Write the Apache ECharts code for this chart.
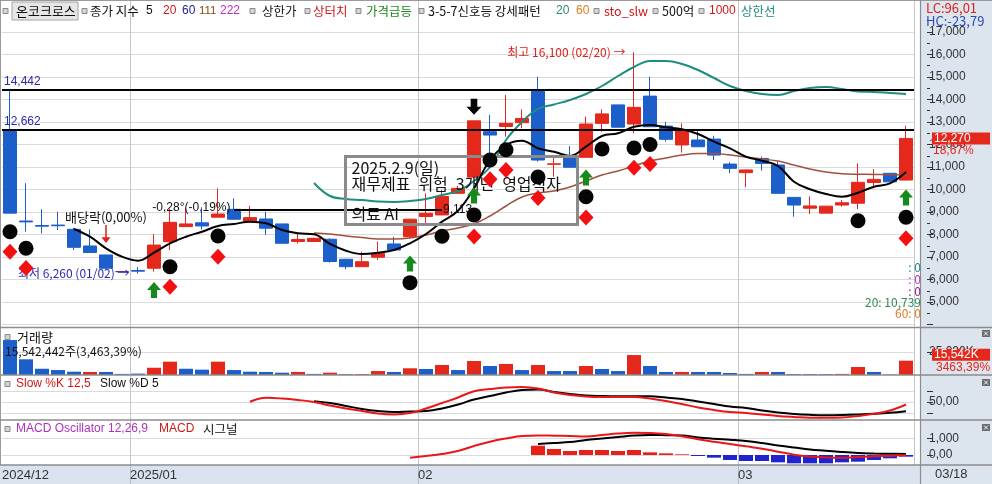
<!DOCTYPE html>
<html><head><meta charset="utf-8">
<script src="https://cdn.jsdelivr.net/npm/echarts@6/dist/echarts.min.js"></script>
<style>html,body{margin:0;padding:0;background:#fff}#c{width:992px;height:484px}</style>
</head><body><div id="c"></div>
<script>
// ---------------- data ----------------
const dates = ['12/18','12/19','12/20','12/23','12/24','12/26','12/27','12/30',
 '01/02','01/03','01/06','01/07','01/08','01/09','01/10','01/13','01/14','01/15','01/16','01/17','01/20','01/21','01/22','01/23','01/24','01/31',
 '02/03','02/04','02/05','02/06','02/07','02/10','02/11','02/12','02/13','02/14','02/17','02/18','02/19','02/20','02/21','02/24','02/25','02/26','02/27','02/28',
 '03/04','03/05','03/06','03/07','03/10','03/11','03/12','03/13','03/14','03/17','03/18'];
const opens  = [12662,8600,8400,8420,8230,7490,7090,6350,6400,6500,7680,8350,8520,8770,9120,8570,8690,8470,7690,7690,7790,6900,6570,6990,7580,7900,8800,8870,9830,10550,12570,12800,12970,14420,11120,11430,11430,12940,13760,12910,14150,12820,11980,12200,12240,11130,10750,11380,11090,9650,9170,8950,9310,9390,10310,10720,10420];
const closes = [8950,8560,8370,8390,7430,7200,6500,6350,6370,7530,8540,8470,8380,8910,8680,8750,8280,7610,7780,7830,6800,6570,6790,7160,7310,8680,8940,9690,10050,13050,12420,12940,13160,11310,11140,10990,12910,13360,12770,13650,12790,12230,12640,11900,11530,10940,10870,11160,9830,9310,9270,9260,9410,10320,10450,10340,12270];
const lows   = [8930,8130,8050,8200,7310,7190,6480,6340,6260,6350,7310,8340,8230,8760,8670,8560,7980,7600,7600,7670,6750,6450,6560,6870,7300,7850,8520,8860,9820,10540,11460,12350,12720,11240,10570,10980,11420,12570,12760,12500,12780,12130,11640,11890,11310,10720,10100,10840,9820,8790,8910,8940,9240,9120,10050,10330,10400];
const highs  = [14442,10280,9120,9010,8300,8230,7100,6360,6560,8020,9160,9160,9210,10050,9610,9270,9010,8480,8080,7850,7830,6920,7240,7680,7900,8700,9830,9980,10160,13060,13310,14200,13560,15010,11530,11930,13240,13560,13770,16100,15010,13010,12940,12610,12390,11210,10880,11460,11240,9660,9690,9270,9530,11160,10900,10730,12830];

const ma5Start = 4;
const ma5 = [8245,7903,7387,7014,6836,7192,7610,7903,8125,8379,8468,8570,8499,8201,8054,8010,7580,7280,7134,7192,7312,7610,8023,8570,9058,10050,11312,11978,12169,11832,11681,11489,11903,12378,12498,12791,12867,12765,12676,12467,12125,11832,11458,11280,11045,10347,10010,9801,9681,9858,10125,10276,10778];
const ma20Start = 19;
const ma20 = [8067,8022,7934,7867,7800,7800,7845,7978,8156,8290,8467,8822,9267,9667,9844,9933,10111,10378,10645,10822,11045,11267,11400,11533,11600,11600,11533,11444,11356,11267,11089,10911,10778,10700,10680,10670,10660,10650];
const tealStart = 19;
const teal = [10289,9711,9578,9534,9467,9445,9489,9578,9756,9934,10378,11000,12200,13000,13578,13778,13978,14245,14600,15044,15444,15711,15711,15578,15311,14956,14600,14378,14245,14200,14378,14511,14556,14467,14356,14333,14289,14245];

const volumes = [38000000,17100000,6800000,5400000,3600000,3300000,3300000,1200000,1500000,7900000,14500000,6800000,5800000,14500000,5400000,3600000,3300000,2500000,3300000,1200000,2500000,800000,1000000,4300000,3300000,7300000,6500000,10900000,5400000,15200000,9800000,12000000,5400000,10900000,4300000,4300000,9800000,6500000,4300000,21700000,9800000,3300000,3300000,3300000,3300000,2200000,1200000,3300000,3300000,1000000,1000000,900000,1200000,8700000,3300000,450000,15542442];
const volUp = [0,0,0,0,0,1,0,0,0,1,1,0,0,1,0,0,0,0,1,0,1,0,1,1,0,1,0,1,0,1,0,1,0,1,0,0,1,0,0,1,0,0,1,0,0,0,0,1,0,0,0,0,1,1,0,0,1];

const slowKStart = 15;
const slowK = [50.6,61.7,59.7,55.6,50,40.3,32,25,18,15.3,19.4,32,47.2,62.5,80,86,90.3,91.7,87.5,76.4,69.4,65.3,63.9,63.9,63.9,59.7,52.8,44.4,34.7,27.8,22.2,19.4,15.3,11.1,8.3,6.1,6.1,6.9,11.1,17.2,26.4,43.1];
const slowDStart = 19;
const slowD = [52.2,47.2,38.9,30.6,25,22.2,23.6,25,32,43,57,66.7,76.4,83.3,84.7,77.8,72.2,68,66.7,66.1,66.1,66.1,62.5,58.3,51.4,44.4,37.5,33.3,26.4,20.8,16.7,14.4,13.3,13.9,15.3,17.2,20,24.4];

const macdStart = 25;
const macd = [-162,-60,60,240,540,798,990,1140,1170,1158,1140,1110,1200,1290,1332,1320,1260,1130,940,790,660,520,380,200,20,-90,-150,-170,-120,-80,-40,0];
const signalStart = 33;
const signal = [660,720,780,900,990,1080,1170,1200,1188,1170,1050,972,912,840,720,570,450,330,258,180,120,90,72,60];
const oscStart = 33;
const osc = [558,360,240,300,300,240,300,160,100,40,-60,-160,-300,-360,-360,-440,-500,-500,-500,-440,-400,-300,-200,-100];

// signal markers [index, price]
const dotMarks = [[0,8125],[1,7387],[10,6570],[13,7934],[25,5859],[27,7920],[29,8867],[30,11312],[31,11769],[33,10556],[36,9681],[37,11800],[39,11845],[40,12000],[53,8614],[56,8765]];
const diamondMarks = [[0,7236],[1,6512],[10,5681],[13,7014],[29,7912],[30,10454],[31,10867],[33,9623],[36,8756],[39,10969],[40,11134],[56,7832]];
const upArrowMarks = [[9,5534],[25,6712],[29,9734],[36,10534],[56,9645]];
const downArrowMarks = [[29,13680]];
const dividendMarks = [[6,8023]];

const levelLines = [14442, 12662];
const trendLine = {from: 14, to: 27, price: 9113, label: '9,113', angle: '-0,28°(-0,19%)'};

const priceTicks = [5000,6000,7000,8000,9000,10000,11000,12000,13000,14000,15000,16000,17000];
const priceTickMarks = [4000,5000,6000,7000,8000,9000,10000,11000,12000,13000,14000,15000,16000,17000];
const priceMinorTicks = [4500,5500,6500,7500,8500,9500,10500,11500,12500,13500,14500,15500,16500,17500];
const monthStarts = [0, 8, 26, 46];
const monthLabels = ['2024/12', '2025/01', '02', '03'];
const volTicks = [25000000];
const slowTicks = [20, 50, 80];
const slowLabels = [50];
const macdTicks = [0, 1000];

// ---------------- styling ----------------
const RED = '#e4281c', BLUE = '#1c5fca', OSC_BLUE = '#1f24d0';
const FONT = '"Noto Sans CJK KR", "Noto Sans", sans-serif';
const NUM = '"Liberation Sans", Arial, sans-serif';
const pad = (start, vals) => Array(start).fill(null).concat(vals);
const monthLine = (idx) => monthStarts.indexOf(idx) > 0;
const HIDDEN_LINE = {color: 'rgba(0,0,0,0)', width: 0.1, type: 'solid'};

const catX = (gi) => ({
  type: 'category', gridIndex: gi, data: dates, boundaryGap: true,
  axisLine: {show: false}, axisTick: {show: false}, axisLabel: {show: false},
  splitLine: {show: true, interval: monthLine, lineStyle: {color: '#c6c6c6', width: 1}}
});
const yBase = {
  position: 'right', offset: 13, axisLine: {show: false},
  axisTick: {show: true, length: 6, lineStyle: {color: '#333'}},
  axisLabel: {color: '#333', fontSize: 12, fontFamily: NUM, margin: 2},
  splitLine: {show: true, lineStyle: {color: '#dadada', width: 1}}
};

const T = (x, y, text, color, size, align, family) => ({
  type: 'text', x: x, y: y, z: 100,
  style: {text: text, fill: color, font: (size || 12) + 'px ' + (family || FONT), align: align || 'left', verticalAlign: 'middle'}
});
const L = (x1, y1, x2, y2, color, w) => ({type: 'line', z: 90, shape: {x1, y1, x2, y2}, style: {stroke: color, lineWidth: w || 1}});
const SQ = (x, y) => ({type: 'rect', z: 100, shape: {x: x, y: y, width: 5, height: 5}, style: {fill: '#d4d4d4', stroke: '#8a8a8a', lineWidth: 1}});
const CLOSE = (x, y) => ({type: 'group', z: 100, children: [
  {type: 'rect', z: 100, shape: {x: x, y: y, width: 8, height: 7}, style: {fill: '#6a6a6a'}},
  {type: 'line', z: 101, shape: {x1: x + 2, y1: y + 1.5, x2: x + 6, y2: y + 5.5}, style: {stroke: '#fff', lineWidth: 1}},
  {type: 'line', z: 101, shape: {x1: x + 6, y1: y + 1.5, x2: x + 2, y2: y + 5.5}, style: {stroke: '#fff', lineWidth: 1}}
]});

const graphics = [
  {type: 'rect', z: -100, shape: {x: 920, y: 0, width: 72, height: 484}, style: {fill: '#dce4ee'}},
  L(0, 0.5, 992, 0.5, '#9a9a9a', 1),
  L(0.5, 0, 0.5, 465, '#9a9a9a', 1),
  L(0, 327.5, 992, 327.5, '#8c8c8c', 1.5),
  L(0, 375, 992, 375, '#8c8c8c', 1.5),
  L(0, 420, 992, 420, '#8c8c8c', 1.5),
  L(0, 465, 992, 465, '#8c8c8c', 1.5),
  L(920.5, 0, 920.5, 484, '#8c8c8c', 1.2),
  // legend row
  SQ(3, 8.5),
  {type: 'rect', z: 99, shape: {x: 12, y: 2, width: 66, height: 18}, style: {fill: '#e6e6e6', stroke: '#a4a4a4', lineWidth: 1}},
  T(16, 11, '온코크로스', '#111', 13),
  SQ(82, 8.5), T(90, 11, '종가 지수', '#111', 12.5), T(146, 11, '5', '#111', 12, 'left', NUM),
  T(163, 11, '20', '#d01818', 12, 'left', NUM), T(182, 11, '60', '#1a1a90', 12, 'left', NUM),
  T(199, 11, '111', '#8a4a10', 11.5, 'left', NUM), T(220, 11, '222', '#c030c8', 12, 'left', NUM),
  SQ(250, 8.5), T(262, 11, '상한가', '#111', 12.5),
  SQ(305, 8.5), T(313, 11, '상터치', '#d01818', 12.5),
  SQ(356, 8.5), T(366, 11, '가격급등', '#1a8a1a', 12.5),
  SQ(419, 8.5), T(428, 11, '3-5-7신호등 강세패턴', '#111', 12.5),
  T(556, 11, '20', '#2e8b6a', 12, 'left', NUM), T(576, 11, '60', '#e07a20', 12, 'left', NUM),
  SQ(594, 8.5), T(604, 11, 'sto_slw', '#d01818', 12.5),
  SQ(653, 8.5), T(662, 11, '500억', '#111', 12.5),
  SQ(699, 8.5), T(709, 11, '1000', '#d01818', 12, 'left', NUM),
  T(741, 11, '상한선', '#1e8c7e', 12.5),
  T(926, 8, 'LC:96,01', '#e0201a', 13),
  T(926, 21, 'HC:-23,79', '#2a4db5', 13),
  // right small labels in main panel
  T(921, 267, ': 0', '#1e8c7e', 12, 'right'),
  T(921, 279.5, ': 0', '#c030c8', 12, 'right'),
  T(921, 291, ': 0', '#9a1a8a', 12, 'right'),
  T(921, 302, '20: 10,739', '#2e8b57', 12, 'right'),
  T(921, 313.5, '60: 0', '#e07a20', 12, 'right'),
  // volume title
  SQ(5, 334.5), T(17, 337, '거래량', '#111', 13),
  T(5, 351, '15,542,442주(3,463,39%)', '#111', 12),
  // slow title
  SQ(5, 381.5), T(16, 384, 'Slow %K 12,5', '#d01818', 12, 'left', NUM), T(100, 384, 'Slow %D 5', '#111', 12, 'left', NUM),
  // macd title
  SQ(5, 426.5), T(16, 429, 'MACD Oscillator 12,26,9', '#b030c0', 12, 'left', NUM),
  T(159, 429, 'MACD', '#d01818', 12, 'left', NUM), T(203, 429, '시그널', '#111', 12.5),
  CLOSE(982, 330), CLOSE(982, 379), CLOSE(982, 424),
  T(935, 474, '03/18', '#333', 13, 'left', NUM)
];

const chart = echarts.init(document.getElementById('c'), null, {renderer: 'canvas'});
const lastClose = closes[closes.length - 1];
const lastVol = volumes[volumes.length - 1];
const option = {
  animation: false,
  backgroundColor: '#ffffff',
  grid: [
    {left: 2, width: 912, top: 0, height: 327.5, outerBoundsMode: 'none'},
    {left: 2, width: 912, top: 328, height: 47, outerBoundsMode: 'none'},
    {left: 2, width: 912, top: 375, height: 45, outerBoundsMode: 'none'},
    {left: 2, width: 912, top: 420, height: 45, outerBoundsMode: 'none'},
    {left: 0, width: 920, top: 465, height: 19, outerBoundsMode: 'none', show: true, backgroundColor: '#dae2ee', borderWidth: 0}
  ],
  xAxis: [
    catX(0), catX(1), catX(2), catX(3),
    {type: 'value', gridIndex: 4, min: -0.625, max: 56.875, position: 'top',
     axisLine: {show: false},
     axisTick: {show: false, customValues: monthStarts.slice(1).map(i => i - 0.5)},
     axisLabel: {customValues: monthStarts.map(i => i - 0.5), inside: true, margin: 4, align: 'left', verticalAlign: 'top',
                 color: '#333', fontSize: 13, fontFamily: NUM,
                 formatter: (v) => monthLabels[monthStarts.indexOf(Math.round(v + 0.5))] || ''},
     splitLine: {show: true, lineStyle: {color: '#b4bccb'}}}
  ],
  yAxis: [
    Object.assign({}, yBase, {type: 'value', gridIndex: 0, min: 3867, max: 18422,
      axisTick: Object.assign({}, yBase.axisTick, {customValues: priceTickMarks}),
      axisLabel: Object.assign({}, yBase.axisLabel, {customValues: priceTicks, formatter: v => v.toLocaleString('en-US')})}),
    Object.assign({}, yBase, {type: 'value', gridIndex: 0, min: 3867, max: 18422,
      axisTick: {show: true, length: 3, lineStyle: {color: '#333'}, customValues: priceMinorTicks},
      axisLabel: {show: false}, splitLine: {show: false}}),
    Object.assign({}, yBase, {type: 'value', gridIndex: 1, min: 0, max: 51100000,
      axisTick: Object.assign({}, yBase.axisTick, {customValues: volTicks}),
      axisLabel: Object.assign({}, yBase.axisLabel, {customValues: volTicks, formatter: v => (v / 1000).toLocaleString('en-US') + 'K'})}),
    Object.assign({}, yBase, {type: 'value', gridIndex: 2, min: 0, max: 125,
      axisTick: Object.assign({}, yBase.axisTick, {customValues: slowTicks}),
      axisLabel: Object.assign({}, yBase.axisLabel, {customValues: slowLabels, formatter: v => v + ',00'})}),
    Object.assign({}, yBase, {type: 'value', gridIndex: 3, min: -600, max: 2100,
      axisTick: Object.assign({}, yBase.axisTick, {customValues: macdTicks}),
      axisLabel: Object.assign({}, yBase.axisLabel, {customValues: macdTicks, formatter: v => v === 0 ? '0,00' : v.toLocaleString('en-US')})}),
    {type: 'value', gridIndex: 4, show: false, min: 0, max: 1}
  ],
  series: [
    {
      type: 'candlestick', xAxisIndex: 0, yAxisIndex: 0, barWidth: 14, z: 3,
      data: opens.map((o, i) => [o, closes[i], lows[i], highs[i]]),
      itemStyle: {color: RED, color0: BLUE, borderColor: RED, borderColor0: BLUE, borderColorDoji: '#6a2c86', borderWidth: 1},
      markLine: {
        symbol: ['none', 'none'], silent: true, animation: false,
        data: [
          ...levelLines.map(v => ({yAxis: v, lineStyle: {color: '#000', width: 2, type: 'solid'},
             label: {show: true, position: 'insideStartTop', formatter: v.toLocaleString('en-US'), color: '#2a2aa8', fontSize: 12, fontFamily: NUM, distance: [2, 2]}})),
          [{coord: [trendLine.from, trendLine.price], lineStyle: {color: '#000', width: 2, type: 'solid'},
            label: {show: true, position: 'end', formatter: trendLine.label, color: '#111', fontSize: 12, fontFamily: NUM, distance: 1}},
           {coord: [trendLine.to, trendLine.price]}],
          {yAxis: lastClose, lineStyle: HIDDEN_LINE,
           label: {show: true, position: 'end', distance: 18, opacity: 1,
             formatter: '{e| }\n{box|' + lastClose.toLocaleString('en-US') + '}\n{pct|18,67%}',
             rich: {
               e: {fontSize: 11, lineHeight: 12},
               box: {color: '#fff', backgroundColor: '#e4281c', fontSize: 12, fontFamily: NUM, lineHeight: 13, width: 54, padding: [0, 2, 0, 2]},
               pct: {color: '#e4281c', fontSize: 12, fontFamily: NUM, lineHeight: 12, padding: [0, 0, 0, 1]}
             }}}
        ]
      },
      markPoint: {
        symbol: 'circle', symbolSize: 1, silent: true, animation: false,
        itemStyle: {color: 'rgba(0,0,0,0)'},
        label: {show: true, color: '#111', fontSize: 12, fontFamily: FONT},
        data: [
          {coord: [trendLine.from, trendLine.price], label: {position: 'left', distance: 3, formatter: trendLine.angle, fontFamily: NUM, offset: [0, -2]}},
          {coord: [6, 8778], label: {position: 'inside', formatter: '배당락(0,00%)', fontSize: 13}},
          {coord: [8, 6260], label: {position: 'left', distance: 8, formatter: '최저 6,260 (01/02) →', color: '#2a2ab8'}},
          {coord: [39, 16100], label: {position: 'left', distance: 8, formatter: '최고 16,100 (02/20) →', color: '#e0201a'}},
          {coord: [21, 11445], label: {position: [0, 0], align: 'left', verticalAlign: 'top',
             formatter: '2025.2.9(일)\n재무제표\u2002위험\u20023개년\u2002영업적자\n\n의료 AI',
             fontSize: 16, lineHeight: 15.3, color: '#111', width: 222, height: 61, padding: [4, 4, 3, 6],
             borderColor: '#8a8a8a', borderWidth: 1.5, backgroundColor: 'transparent', overflow: 'none'}}
        ]
      }
    },
    {type: 'line', xAxisIndex: 0, yAxisIndex: 0, data: pad(tealStart, teal), showSymbol: false, smooth: 0.4, z: 4,
     lineStyle: {color: '#1e8c7e', width: 2}},
    {type: 'line', xAxisIndex: 0, yAxisIndex: 0, data: pad(ma20Start, ma20), showSymbol: false, smooth: 0.4, z: 4,
     lineStyle: {color: '#a2503e', width: 1.5}},
    {type: 'line', xAxisIndex: 0, yAxisIndex: 0, data: pad(ma5Start, ma5), showSymbol: false, smooth: 0.4, z: 4,
     lineStyle: {color: '#000', width: 2}},
    {type: 'scatter', xAxisIndex: 0, yAxisIndex: 0, data: dotMarks, symbol: 'circle', symbolSize: 15, z: 6,
     itemStyle: {color: '#050505', opacity: 1}},
    {type: 'scatter', xAxisIndex: 0, yAxisIndex: 0, data: diamondMarks, symbol: 'diamond', symbolSize: [15, 16], z: 6,
     itemStyle: {color: '#f21010', opacity: 1}},
    {type: 'scatter', xAxisIndex: 0, yAxisIndex: 0, data: upArrowMarks, symbol: 'path://M5,0L10,5.5L7.2,5.5L7.2,11L2.8,11L2.8,5.5L0,5.5Z', symbolSize: [14, 16], z: 6,
     itemStyle: {color: '#178a1e', opacity: 1}},
    {type: 'scatter', xAxisIndex: 0, yAxisIndex: 0, data: downArrowMarks, symbol: 'path://M2.8,0L7.2,0L7.2,5.5L10,5.5L5,11L0,5.5L2.8,5.5Z', symbolSize: [15, 16], z: 6,
     itemStyle: {color: '#050505', opacity: 1}},
    {type: 'scatter', xAxisIndex: 0, yAxisIndex: 0, data: dividendMarks, symbol: 'path://M4.4,0L5.6,0L5.6,11L8.6,11L5,16L1.4,11L4.4,11Z', symbolSize: [9, 18], z: 6,
     itemStyle: {color: '#e0201a', opacity: 1}},
    // volume
    {type: 'bar', xAxisIndex: 1, yAxisIndex: 2, barWidth: 14, z: 3,
     data: volumes.map((v, i) => ({value: v, itemStyle: {color: volUp[i] ? RED : BLUE}})),
     markLine: {symbol: ['none', 'none'], silent: true, animation: false,
       data: [{yAxis: lastVol, lineStyle: HIDDEN_LINE,
         label: {show: true, position: 'end', distance: 18, opacity: 1,
           formatter: '{box|' + Math.round(lastVol / 1000).toLocaleString('en-US') + 'K}\n{pct|3463,39%}',
           rich: {
             box: {color: '#fff', backgroundColor: '#e4281c', fontSize: 12, fontFamily: NUM, lineHeight: 13, width: 54, padding: [0, 2, 0, 2]},
             pct: {color: '#e4281c', fontSize: 12, fontFamily: NUM, lineHeight: 12, padding: [0, 0, 0, 4]}
           }}}]}},
    // slow stochastic
    {type: 'line', xAxisIndex: 2, yAxisIndex: 3, data: pad(slowDStart, slowD), showSymbol: false, smooth: 0.4, z: 4,
     lineStyle: {color: '#000', width: 2}},
    {type: 'line', xAxisIndex: 2, yAxisIndex: 3, data: pad(slowKStart, slowK), showSymbol: false, smooth: 0.4, z: 5,
     lineStyle: {color: '#e81818', width: 2}},
    // macd
    {type: 'bar', xAxisIndex: 3, yAxisIndex: 4, barWidth: 14, z: 3,
     data: pad(oscStart, osc).map(v => v === null ? null : ({value: v, itemStyle: {color: v >= 0 ? '#e82018' : OSC_BLUE}}))},
    {type: 'line', xAxisIndex: 3, yAxisIndex: 4, data: pad(signalStart, signal), showSymbol: false, smooth: 0.4, z: 4,
     lineStyle: {color: '#000', width: 2}},
    {type: 'line', xAxisIndex: 3, yAxisIndex: 4, data: pad(macdStart, macd), showSymbol: false, smooth: 0.4, z: 5,
     lineStyle: {color: '#e81818', width: 2}},
    {type: 'scatter', xAxisIndex: 4, yAxisIndex: 5, data: []}
  ],
  graphic: graphics
};
chart.setOption(option);
</script>
</body></html>
